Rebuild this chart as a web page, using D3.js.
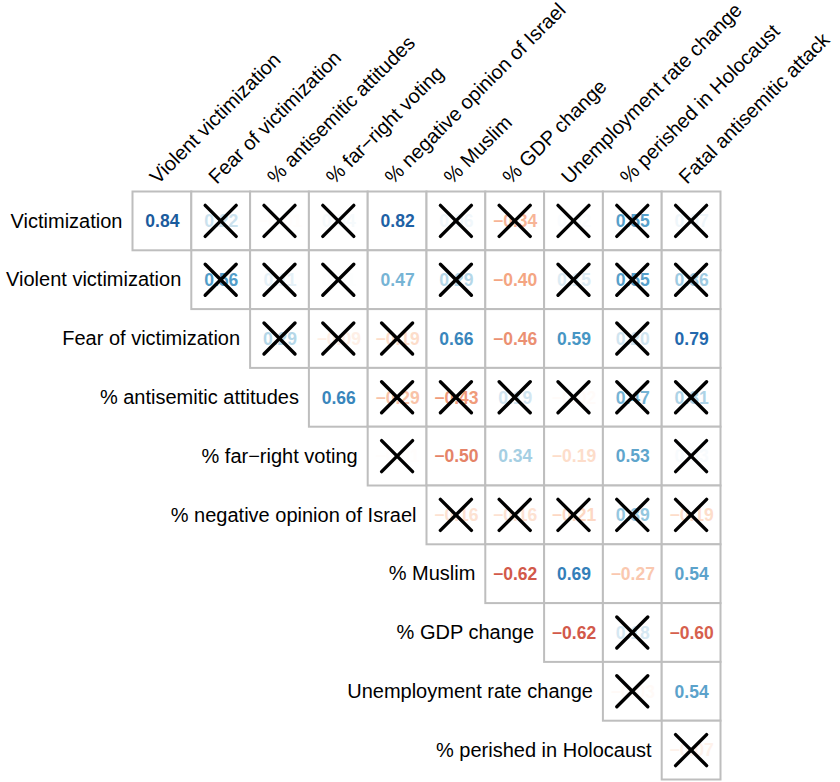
<!DOCTYPE html>
<html>
<head>
<meta charset="utf-8">
<script src="https://cdn.jsdelivr.net/npm/d3@7/dist/d3.min.js"></script>
<style>
  html, body { margin: 0; padding: 0; background: #ffffff; }
  svg { display: block; }
  text { font-family: "Liberation Sans", Arial, Helvetica, sans-serif; }
</style>
</head>
<body>
<svg id="chart" width="840" height="782"></svg>
<script>
// Row variables (left) and column variables (top) of the upper-triangle correlation matrix
const rowLabels = [
  "Victimization",
  "Violent victimization",
  "Fear of victimization",
  "% antisemitic attitudes",
  "% far\u2212right voting",
  "% negative opinion of Israel",
  "% Muslim",
  "% GDP change",
  "Unemployment rate change",
  "% perished in Holocaust"
];
const colLabels = [
  "Violent victimization",
  "Fear of victimization",
  "% antisemitic attitudes",
  "% far\u2212right voting",
  "% negative opinion of Israel",
  "% Muslim",
  "% GDP change",
  "Unemployment rate change",
  "% perished in Holocaust",
  "Fatal antisemitic attack"
];

// Correlation coefficients; row i holds columns i..9
const corrValues = [
  [0.84, 0.22, -0.01, 0.04, 0.82, 0.06, -0.34, 0.02, 0.55, 0.07],
  [0.56, 0.11, 0.01, 0.47, 0.29, -0.40, 0.15, 0.55, 0.36],
  [0.29, -0.09, -0.19, 0.66, -0.46, 0.59, 0.20, 0.79],
  [0.66, -0.29, -0.43, 0.19, -0.02, 0.47, 0.31],
  [-0.01, -0.50, 0.34, -0.19, 0.53, 0.03],
  [-0.16, -0.16, -0.21, 0.39, -0.19],
  [-0.62, 0.69, -0.27, 0.54],
  [-0.62, 0.18, -0.60],
  [-0.03, 0.54],
  [-0.07]
];

// 1 = not significant (crossed out)
const notSignificant = [
  [0, 1, 1, 1, 0, 1, 1, 1, 1, 1],
  [1, 1, 1, 0, 1, 0, 1, 1, 1],
  [1, 1, 1, 0, 0, 0, 1, 0],
  [0, 1, 1, 1, 1, 1, 1],
  [1, 0, 0, 0, 0, 1],
  [1, 1, 1, 1, 1],
  [0, 0, 0, 0],
  [0, 1, 0],
  [1, 0],
  [1]
];

// Diverging red-white-blue palette from -1 to 1
const paletteStops = [-1, -0.8, -0.6, -0.4, -0.2, 0, 0.2, 0.4, 0.6, 0.8, 1];
const paletteColors = ["#67001F", "#B2182B", "#D6604D", "#F4A582", "#FDDBC7",
                       "#FFFFFF", "#D1E5F0", "#92C5DE", "#4393C3", "#2166AC", "#053061"];

const svg = d3.select("#chart");

const x = d3.scaleBand().domain(colLabels).range([132.5, 720.5]).padding(0);
const y = d3.scaleBand().domain(rowLabels).range([191.5, 779.5]).padding(0);
const color = d3.scaleLinear().domain(paletteStops).range(paletteColors)
  .interpolate(d3.interpolateRgb);
const fmt = d3.format(".2f");

// Flatten the triangle into cell records
const cells = [];
corrValues.forEach((row, i) => {
  row.forEach((v, k) => {
    const j = i + k;
    cells.push({ row: rowLabels[i], col: colLabels[j], value: v, cross: notSignificant[i][k] === 1 });
  });
});

const bw = x.bandwidth();
const bh = y.bandwidth();

const cellG = svg.append("g").attr("class", "cells")
  .selectAll("g").data(cells).join("g")
  .attr("transform", d => `translate(${x(d.col)},${y(d.row)})`);

cellG.append("rect")
  .attr("width", bw)
  .attr("height", bh)
  .attr("fill", "#ffffff")
  .attr("stroke", "#BEBEBE")
  .attr("stroke-width", 2);

cellG.append("text")
  .attr("x", bw / 2 + 0.5)
  .attr("y", bh / 2)
  .attr("dy", "0.36em")
  .attr("text-anchor", "middle")
  .attr("font-size", 17.5)
  .attr("font-weight", "bold")
  .attr("fill", d => color(d.value))
  .text(d => fmt(d.value));

// Cross marks over non-significant coefficients
const half = 15.5;
const crossG = cellG.filter(d => d.cross).append("g")
  .attr("stroke", "#000000")
  .attr("stroke-width", 3.4)
  .attr("stroke-linecap", "round");
crossG.append("line")
  .attr("x1", bw / 2 - half).attr("y1", bh / 2 - half)
  .attr("x2", bw / 2 + half).attr("y2", bh / 2 + half);
crossG.append("line")
  .attr("x1", bw / 2 - half).attr("y1", bh / 2 + half)
  .attr("x2", bw / 2 + half).attr("y2", bh / 2 - half);

// Row labels, right-aligned against the first cell of each row
svg.append("g").attr("class", "row-labels")
  .selectAll("text").data(rowLabels).join("text")
  .attr("x", (d, i) => x(colLabels[i]) - 10)
  .attr("y", d => y(d) + bh / 2)
  .attr("dy", "0.33em")
  .attr("text-anchor", "end")
  .attr("font-size", 20)
  .attr("fill", "#000000")
  .text(d => d);

// Column labels, rotated 45 degrees above the grid
svg.append("g").attr("class", "col-labels")
  .selectAll("text").data(colLabels).join("text")
  .attr("transform", d => `translate(${x(d) + bw / 2 - 4},${185}) rotate(-45)`)
  .attr("text-anchor", "start")
  .attr("font-size", 20)
  .attr("fill", "#000000")
  .text(d => d);
</script>
</body>
</html>
